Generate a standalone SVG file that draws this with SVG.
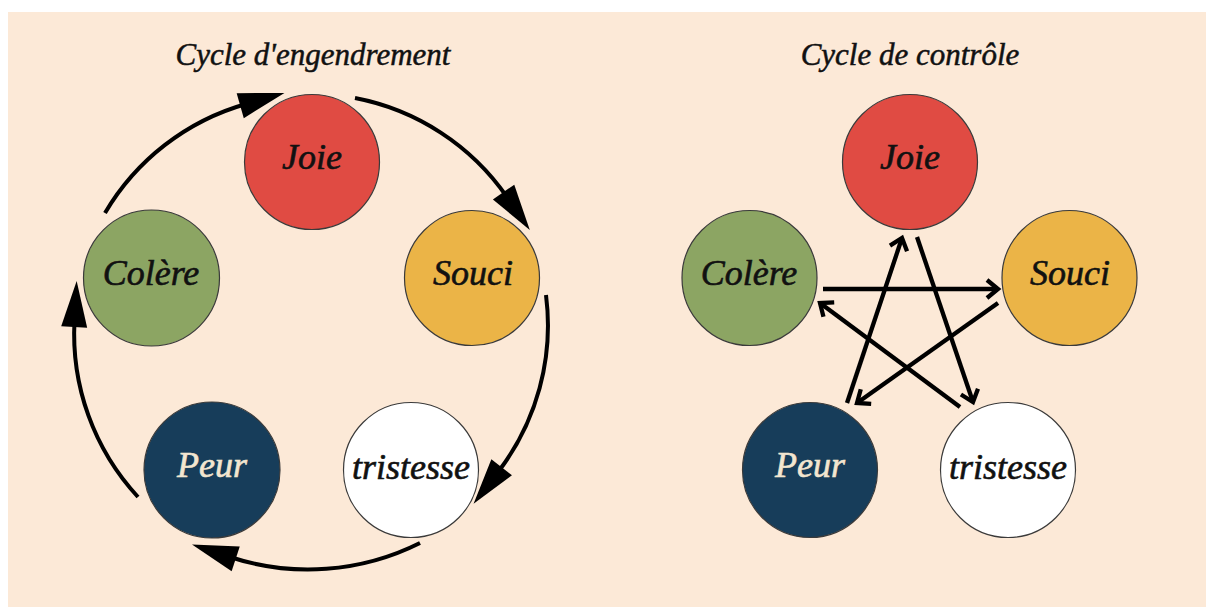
<svg xmlns="http://www.w3.org/2000/svg" width="1206" height="607" viewBox="0 0 1206 607">
<style>
.node{stroke:#3a3a3a;stroke-width:1.2}
.lbl{font-family:"Liberation Serif",serif;font-style:italic;font-size:36px;text-anchor:middle;fill:#111;stroke:#111;stroke-width:0.6}
.title{font-family:"Liberation Serif",serif;font-style:italic;font-size:31px;text-anchor:middle;fill:#111;stroke:#111;stroke-width:0.5}
.gen{fill:none;stroke:#000;stroke-width:4;marker-end:url(#big)}
.ctl{fill:none;stroke:#000;stroke-width:4.3;stroke-linecap:butt;marker-end:url(#chev)}
</style>
<defs>
<marker id="big" markerUnits="userSpaceOnUse" markerWidth="60" markerHeight="40" refX="6" refY="13" orient="auto" overflow="visible">
<path d="M0,0 L46,13 L0,26 Z" fill="#000"/>
</marker>
<marker id="chev" markerUnits="userSpaceOnUse" markerWidth="30" markerHeight="30" refX="0" refY="0" orient="auto" overflow="visible">
<path d="M-11,-9 L0,0 L-11,9" fill="none" stroke="#000" stroke-width="4.3" stroke-linejoin="miter"/>
</marker>
</defs>
<rect x="8" y="12" width="1198" height="595" fill="#FCE9D7"/>
<text class="title" x="313" y="65">Cycle d'engendrement</text>
<text class="title" x="910" y="65">Cycle de contrôle</text>
<g id="connectors-generation">
<path class="gen" d="M105,213 A240,240 0 0 1 246,104"/>
<path class="gen" d="M355,98 A240,240 0 0 1 507,197"/>
<path class="gen" d="M546,295 A240,240 0 0 1 498,472"/>
<path class="gen" d="M420,543 A250,250 0 0 1 230,557"/>
<path class="gen" d="M138,497 A240,240 0 0 1 74.5,321"/>
</g>
<g id="connectors-control">
<path class="ctl" d="M823,289 L998,289"/>
<path class="ctl" d="M998,303 L857,403"/>
<path class="ctl" d="M960,407 L820,303"/>
<path class="ctl" d="M917,237 L973,402"/>
<path class="ctl" d="M847,403 L902,238"/>
</g>
<g id="gen-joie"><circle class="node" cx="312" cy="162" r="67.5" fill="#E04B43"/><text class="lbl" x="312" y="169">Joie</text></g>
<g id="gen-souci"><circle class="node" cx="472" cy="278" r="67.5" fill="#EBB447"/><text class="lbl" x="473" y="285">Souci</text></g>
<g id="gen-colere"><circle class="node" cx="151.5" cy="278" r="68" fill="#8CA563"/><text class="lbl" x="151" y="285">Colère</text></g>
<g id="gen-peur"><circle class="node" cx="212" cy="470" r="68" fill="#173D5A"/><text class="lbl" x="212" y="477" style="fill:#F3E6D0;stroke:#F3E6D0">Peur</text></g>
<g id="gen-tristesse"><circle class="node" cx="411" cy="470" r="67.5" fill="#FFFFFF"/><text class="lbl" x="411" y="479">tristesse</text></g>
<g id="ctl-joie"><circle class="node" cx="910" cy="162" r="67.5" fill="#E04B43"/><text class="lbl" x="910" y="169">Joie</text></g>
<g id="ctl-souci"><circle class="node" cx="1069.5" cy="278" r="67.5" fill="#EBB447"/><text class="lbl" x="1070" y="285">Souci</text></g>
<g id="ctl-colere"><circle class="node" cx="749.5" cy="278" r="67.5" fill="#8CA563"/><text class="lbl" x="749" y="285">Colère</text></g>
<g id="ctl-peur"><circle class="node" cx="810" cy="470" r="67.5" fill="#173D5A"/><text class="lbl" x="810" y="477" style="fill:#F3E6D0;stroke:#F3E6D0">Peur</text></g>
<g id="ctl-tristesse"><circle class="node" cx="1008" cy="470" r="67.5" fill="#FFFFFF"/><text class="lbl" x="1008" y="479">tristesse</text></g>
</svg>
